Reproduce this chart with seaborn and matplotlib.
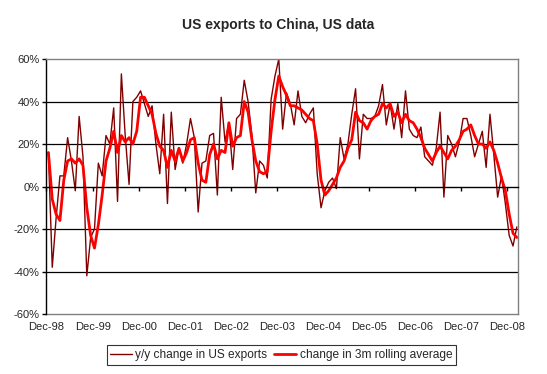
import numpy as np
import pandas as pd
import seaborn as sns
import matplotlib.pyplot as plt
from matplotlib.ticker import FuncFormatter

sns.set_style(style='white')
plt.rcParams['font.family'] = ['Liberation Sans', 'DejaVu Sans']

# monthly values, Dec-98 onward (%)
yoy_change = [16, -38, -15, 5, 5, 23, 12, -2, 33, 14, -42, -24,
              -20, 11, 5, 24, 20, 37, -7, 53, 24, 1, 40, 42,
              45, 39, 33, 38, 20, 6, 34, -8, 35, 8, 18, 11,
              20, 32, 23, -12, 11, 12, 24, 25, -4, 42, 21, 30,
              8, 32, 34, 50, 40, 24, -3, 12, 10, 4, 41, 52,
              60, 27, 44, 39, 29, 45, 33, 30, 34, 37, 6, -10,
              -2, 2, 4, -1, 23, 13, 20, 34, 46, 13, 34, 32,
              32, 33, 38, 48, 29, 39, 27, 39, 23, 45, 27, 24,
              23, 28, 14, 12, 10, 18, 35, -5, 24, 20, 14, 21,
              32, 32, 24, 14, 20, 26, 9, 34, 15, -5, 5, -8,
              -23, -28, -19]
rolling_3m = [16, -6, -13, -16, 3, 12, 13, 11, 13, 10, -10, -23,
              -29, -18, -4, 12, 18, 26, 16, 24, 21, 23, 20, 26,
              42, 42, 38, 34, 25, 19, 17, 9, 17, 12, 18, 12,
              16, 22, 23, 11, 3, 2, 15, 20, 13, 17, 16, 30,
              19, 23, 24, 40, 35, 22, 12, 7, 6, 7, 26, 41,
              52, 47, 43, 38, 38, 37, 36, 34, 32, 31, 20, 3,
              -4, -2, 1, 4, 9, 12, 18, 22, 35, 31, 30, 27,
              31, 33, 34, 39, 37, 39, 33, 35, 30, 34, 31, 30,
              27, 23, 18, 15, 12, 16, 19, 16, 13, 17, 19, 22,
              26, 27, 29, 24, 20, 20, 18, 21, 17, 11, 4, -2,
              -13, -22, -24]
year_labels = ['Dec-98', 'Dec-99', 'Dec-00', 'Dec-01', 'Dec-02', 'Dec-03',
               'Dec-04', 'Dec-05', 'Dec-06', 'Dec-07', 'Dec-08']
y_ticks = [-60, -40, -20, 0, 20, 40, 60]

df = pd.DataFrame({'month': np.arange(len(yoy_change)),
                   'yoy': yoy_change, 'roll': rolling_3m})

fig = plt.figure(figsize=(5.47, 3.74), dpi=100)
ax = fig.add_axes([0.085, 0.1604, 0.862, 0.6818])

sns.lineplot(x='month', y='yoy', data=df, color='#800000', linewidth=1.0,
             label='y/y change in US exports', ax=ax, legend=False)
sns.lineplot(x='month', y='roll', data=df, color='#FF0000', linewidth=2.0,
             label='change in 3m rolling average', ax=ax, legend=False)

ax.set_xlim(-0.5, 122.3)
ax.set_ylim(-60, 60)
ax.set(xlabel='', ylabel='')

# gridlines
for v in [-40, -20, 20, 40]:
    ax.axhline(v, color='#000000', linewidth=0.9, zorder=0)

# frame
for side in ['top', 'right']:
    ax.spines[side].set_color('#808080')
    ax.spines[side].set_linewidth(1.0)
ax.spines['left'].set_color('#000000')
ax.spines['left'].set_linewidth(1.0)

# x axis crosses at 0 with tick marks, labels sit at the bottom
ax.spines['bottom'].set_position(('data', 0))
ax.spines['bottom'].set_color('#000000')
ax.spines['bottom'].set_linewidth(1.0)
tick_pos = np.arange(len(year_labels)) * 12 - 0.5
ax.set_xticks(tick_pos)
ax.tick_params(axis='x', direction='out', length=3, width=1,
               color='#000000', labelbottom=False, bottom=True)

sec = ax.secondary_xaxis(0.0)
sec.set_xticks(tick_pos)
sec.set_xticklabels(year_labels)
sec.tick_params(axis='x', length=0, pad=6, labelsize=8)
sec.spines['bottom'].set_color('#808080')
sec.spines['bottom'].set_linewidth(1.0)

ax.set_yticks(y_ticks)
ax.yaxis.set_major_formatter(FuncFormatter(lambda v, p: '{:d}%'.format(int(v))))
ax.tick_params(axis='y', direction='out', length=3, width=1, left=True,
               color='#000000', labelsize=8, pad=2)

fig.text(0.508, 0.933, 'US exports to China, US data', ha='center',
         va='center', fontsize=10, fontweight='bold')

handles, labels = ax.get_legend_handles_labels()
leg = fig.legend(handles, labels, loc='center', bbox_to_anchor=(0.514, 0.051),
                 ncol=2, fontsize=8.6, frameon=True, fancybox=False,
                 handlelength=1.8, handletextpad=0.3, columnspacing=0.6,
                 borderpad=0.3)
leg.get_frame().set_edgecolor('#000000')
leg.get_frame().set_linewidth(0.8)

fig.savefig('out.png', dpi=100)
